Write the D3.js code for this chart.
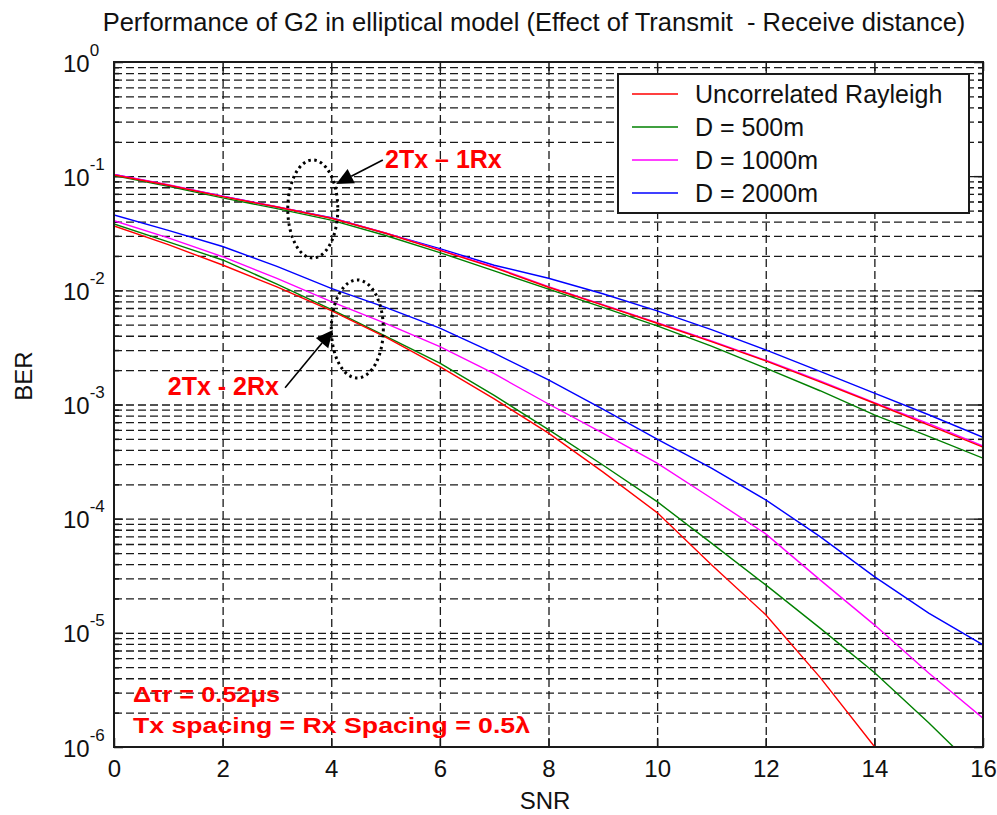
<!DOCTYPE html>
<html>
<head>
<meta charset="utf-8">
<script src="https://cdn.jsdelivr.net/npm/d3@7"></script>
<style>
  body { margin: 0; background: #fff; }
  text { font-family: "Liberation Sans", Arial, Helvetica, sans-serif; }
</style>
</head>
<body>
<svg id="chart" width="997" height="815"></svg>
<script>
// ---- data ----------------------------------------------------------------
const snr = [0, 1, 2, 3, 4, 5, 6, 7, 8, 9, 10, 11, 12, 13, 14, 15, 16];
const xTickValues = [0, 2, 4, 6, 8, 10, 12, 14, 16];
const yDecades = [1e-6, 1e-5, 1e-4, 1e-3, 1e-2, 1e-1, 1];

const seriesNames = ["Uncorrelated Rayleigh", "D = 500m", "D = 1000m", "D = 2000m"];
const seriesColors = ["#ff0000", "#008000", "#ff00ff", "#0000ff"];

// 2Tx - 1Rx
const oneRxRayleigh = [0.1023, 0.0832, 0.0662, 0.0537, 0.0428, 0.0316, 0.0224, 0.0158, 0.01064, 0.00741, 0.00515, 0.00355, 0.00241, 0.00158, 0.001026, 0.000661, 0.000423];
const oneRxD500     = [0.1012, 0.0813, 0.0646, 0.0519, 0.0412, 0.0302, 0.0214, 0.0148, 0.01023, 0.00708, 0.00488, 0.00324, 0.00208, 0.00132, 0.000811, 0.000525, 0.000339];
const oneRxD1000    = [0.1035, 0.0840, 0.0668, 0.0540, 0.0430, 0.0318, 0.0226, 0.0160, 0.01075, 0.00748, 0.00522, 0.00360, 0.00244, 0.00161, 0.00104, 0.00068, 0.000432];
const oneRxD2000    = [0.1035, 0.0832, 0.0668, 0.0537, 0.0432, 0.0316, 0.0232, 0.0166, 0.01276, 0.00933, 0.00661, 0.00452, 0.00301, 0.00195, 0.00126, 0.000813, 0.000516];

// 2Tx - 2Rx
const twoRxRayleigh = [0.0366, 0.0251, 0.01667, 0.01072, 0.00664, 0.00389, 0.00215, 0.00112, 0.000562, 0.000257, 0.000113, 3.94e-5, 1.44e-5, 4.07e-6, 1.01e-6, 2.5e-7, 6.3e-8];
const twoRxD500     = [0.0381, 0.0266, 0.01845, 0.01135, 0.00682, 0.00398, 0.0023, 0.0012, 0.000603, 0.000295, 0.000141, 6.1e-5, 2.63e-5, 1.1e-5, 4.49e-6, 1.63e-6, 5.6e-7];
const twoRxD1000    = [0.0407, 0.0288, 0.0197, 0.01274, 0.00796, 0.00513, 0.00321, 0.00186, 0.00101, 0.000562, 0.000306, 0.000151, 7.36e-5, 2.91e-5, 1.175e-5, 4.44e-6, 1.79e-6];
const twoRxD2000    = [0.0457, 0.0335, 0.0242, 0.0162, 0.0104, 0.00708, 0.00466, 0.00282, 0.00164, 0.000912, 0.000497, 0.000277, 0.000146, 6.97e-5, 3.11e-5, 1.49e-5, 7.85e-6];

const titleText = "Performance of G2 in elliptical model (Effect of Transmit  - Receive distance)";

// ---- layout ----------------------------------------------------------------
const svg = d3.select("#chart");
const W = 997, H = 815;
const plot = { left: 114, top: 62, right: 983, bottom: 747 };
const pw = plot.right - plot.left, ph = plot.bottom - plot.top;

svg.append("rect").attr("width", W).attr("height", H).attr("fill", "#fff");

const x = d3.scaleLinear().domain([0, 16]).range([plot.left, plot.right]);
const y = d3.scaleLog().domain([1e-6, 1]).range([plot.bottom, plot.top]);

// every 1..9 x 10^k position on the log axis
const yMinor = [];
yDecades.slice(0, -1).forEach(d => { for (let m = 2; m <= 9; m++) yMinor.push(d * m); });
const yGridValues = yDecades.slice(1, -1).concat(yMinor);

svg.append("defs").append("clipPath").attr("id", "plotClip")
  .append("rect").attr("x", plot.left).attr("y", plot.top).attr("width", pw).attr("height", ph);

// ---- grid ----------------------------------------------------------------
const gridStyle = g => {
  g.select(".domain").remove();
  g.selectAll(".tick line").attr("stroke", "#1a1a1a").attr("stroke-width", 1.3).attr("stroke-dasharray", "8,4");
};
svg.append("g").attr("transform", `translate(0,${plot.bottom})`)
  .call(d3.axisBottom(x).tickValues(xTickValues.slice(1, -1)).tickSize(-ph).tickFormat(""))
  .call(gridStyle);
svg.append("g").attr("transform", `translate(${plot.left},0)`)
  .call(d3.axisLeft(y).tickValues(yGridValues).tickSize(-pw).tickFormat(""))
  .call(gridStyle);

// ---- inward tick marks ---------------------------------------------------
const tickStyle = g => {
  g.select(".domain").remove();
  g.selectAll(".tick line").attr("stroke", "#1a1a1a").attr("stroke-width", 1.5);
};
svg.append("g").attr("transform", `translate(0,${plot.bottom})`)
  .call(d3.axisBottom(x).tickValues(xTickValues).tickSize(-9).tickFormat("")).call(tickStyle);
svg.append("g").attr("transform", `translate(0,${plot.top})`)
  .call(d3.axisTop(x).tickValues(xTickValues).tickSize(-9).tickFormat("")).call(tickStyle);
svg.append("g").attr("transform", `translate(${plot.left},0)`)
  .call(d3.axisLeft(y).tickValues(yDecades).tickSize(-9).tickFormat("")).call(tickStyle);
svg.append("g").attr("transform", `translate(${plot.left},0)`)
  .call(d3.axisLeft(y).tickValues(yMinor).tickSize(-5).tickFormat("")).call(tickStyle);
svg.append("g").attr("transform", `translate(${plot.right},0)`)
  .call(d3.axisRight(y).tickValues(yDecades).tickSize(-9).tickFormat("")).call(tickStyle);
svg.append("g").attr("transform", `translate(${plot.right},0)`)
  .call(d3.axisRight(y).tickValues(yMinor).tickSize(-5).tickFormat("")).call(tickStyle);

// ---- tick labels ----------------------------------------------------------
const xLab = svg.append("g").attr("transform", `translate(0,${plot.bottom})`)
  .call(d3.axisBottom(x).tickValues(xTickValues).tickSize(0).tickPadding(13).tickFormat(d3.format("d")));
xLab.select(".domain").remove();
xLab.selectAll(".tick text").attr("font-size", 24).attr("fill", "#111")
  .attr("font-family", "'Liberation Sans', Arial, sans-serif");

const yLab = svg.append("g").attr("transform", `translate(${plot.left},0)`)
  .call(d3.axisLeft(y).tickValues(yDecades).tickSize(0).tickFormat(() => ""));
yLab.select(".domain").remove();
yLab.selectAll(".tick text").each(function (d) {
  const t = d3.select(this)
    .attr("x", -51).attr("dy", null).attr("y", 9)
    .attr("text-anchor", "start").attr("font-size", 24).attr("fill", "#111")
    .attr("font-family", "'Liberation Sans', Arial, sans-serif");
  t.append("tspan").text("10");
  t.append("tspan").attr("dy", -16).attr("font-size", 17).text(String(Math.round(Math.log10(d))));
});

// ---- curves ---------------------------------------------------------------
const line = d3.line().x((d, i) => x(snr[i])).y(d => y(d));
const curves = [
  { values: oneRxRayleigh, s: 0 }, { values: oneRxD500, s: 1 },
  { values: oneRxD1000, s: 2 }, { values: oneRxD2000, s: 3 },
  { values: twoRxRayleigh, s: 0 }, { values: twoRxD500, s: 1 },
  { values: twoRxD1000, s: 2 }, { values: twoRxD2000, s: 3 }
];
// draw order: green, blue, magenta, red within each group
const order = [1, 3, 2, 0];
const cg = svg.append("g").attr("clip-path", "url(#plotClip)");
[0, 4].forEach(base => order.forEach(k => {
  const c = curves[base + k];
  cg.append("path").attr("d", line(c.values)).attr("fill", "none")
    .attr("stroke", seriesColors[c.s]).attr("stroke-width", 1.4);
}));

// ---- annotations ----------------------------------------------------------
const annEllipses = [
  { snr: 3.66, ber: 0.0516, rx: 25, ry: 49 },
  { snr: 4.48, ber: 0.00459, rx: 26, ry: 49 }
];
const annArrows = [
  { from: [4.95, 0.1387], to: [4.09, 0.0855] },
  { from: [3.15, 0.0014], to: [4.03, 0.0045] }
];
const groupLabels = [
  { text: "2Tx \u2013 1Rx", snr: 4.99, ber: 0.118 },
  { text: "2Tx - 2Rx", snr: 0.99, ber: 0.00121 }
];
const noteLines = [
  { text: "\u0394\u03c4r = 0.52\u03bcs", snr: 0.35, ber: 2.49e-6, len: 147 },
  { text: "Tx spacing = Rx Spacing = 0.5\u03bb", snr: 0.35, ber: 1.33e-6, len: 397 }
];

const ann = svg.append("g");
annEllipses.forEach(e => {
  ann.append("ellipse").attr("cx", x(e.snr)).attr("cy", y(e.ber)).attr("rx", e.rx).attr("ry", e.ry)
    .attr("fill", "none").attr("stroke", "#000").attr("stroke-width", 3).attr("stroke-dasharray", "2.5,3.5");
});
annArrows.forEach(a => {
  const x1 = x(a.from[0]), y1 = y(a.from[1]), x2 = x(a.to[0]), y2 = y(a.to[1]);
  const ang = Math.atan2(y2 - y1, x2 - x1);
  const hl = 17, hw = 8;
  const bx = x2 - hl * Math.cos(ang), by = y2 - hl * Math.sin(ang);
  ann.append("line").attr("x1", x1).attr("y1", y1).attr("x2", bx).attr("y2", by)
    .attr("stroke", "#000").attr("stroke-width", 1.6);
  const pts = [
    [x2, y2],
    [bx + hw * Math.sin(ang), by - hw * Math.cos(ang)],
    [bx - hw * Math.sin(ang), by + hw * Math.cos(ang)]
  ];
  ann.append("polygon").attr("points", pts.map(p => p.join(",")).join(" ")).attr("fill", "#000");
});
groupLabels.forEach(l => {
  ann.append("text").attr("x", x(l.snr)).attr("y", y(l.ber))
    .attr("font-size", 25).attr("font-weight", "bold").attr("fill", "#ff0000").text(l.text);
});
noteLines.forEach(l => {
  ann.append("text").attr("x", x(l.snr)).attr("y", y(l.ber))
    .attr("font-size", 22).attr("font-weight", "bold").attr("fill", "#ff0000")
    .attr("textLength", l.len).attr("lengthAdjust", "spacingAndGlyphs").text(l.text);
});

// ---- axes box -------------------------------------------------------------
svg.append("rect").attr("x", plot.left).attr("y", plot.top).attr("width", pw).attr("height", ph)
  .attr("fill", "none").attr("stroke", "#1a1a1a").attr("stroke-width", 2);

// ---- legend ---------------------------------------------------------------
const leg = svg.append("g").attr("transform", "translate(618,74)");
leg.append("rect").attr("width", 351).attr("height", 139).attr("fill", "#fff")
  .attr("stroke", "#1a1a1a").attr("stroke-width", 2);
seriesNames.forEach((name, i) => {
  const row = leg.append("g").attr("transform", `translate(0,${20 + i * 33})`);
  row.append("line").attr("x1", 14).attr("x2", 60).attr("stroke", seriesColors[i]).attr("stroke-width", 1.4);
  row.append("text").attr("x", 77).attr("y", 9).attr("font-size", 25).attr("fill", "#111").text(name);
});

// ---- titles ---------------------------------------------------------------
svg.append("text").attr("x", 534).attr("y", 31).attr("text-anchor", "middle")
  .attr("font-size", 25.5).attr("fill", "#111").style("white-space", "pre").text(titleText);
svg.append("text").attr("x", 545).attr("y", 809).attr("text-anchor", "middle")
  .attr("font-size", 24).attr("fill", "#111").text("SNR");
svg.append("text").attr("transform", "translate(32,376) rotate(-90)").attr("text-anchor", "middle")
  .attr("font-size", 24).attr("fill", "#111").text("BER");
</script>
</body>
</html>
